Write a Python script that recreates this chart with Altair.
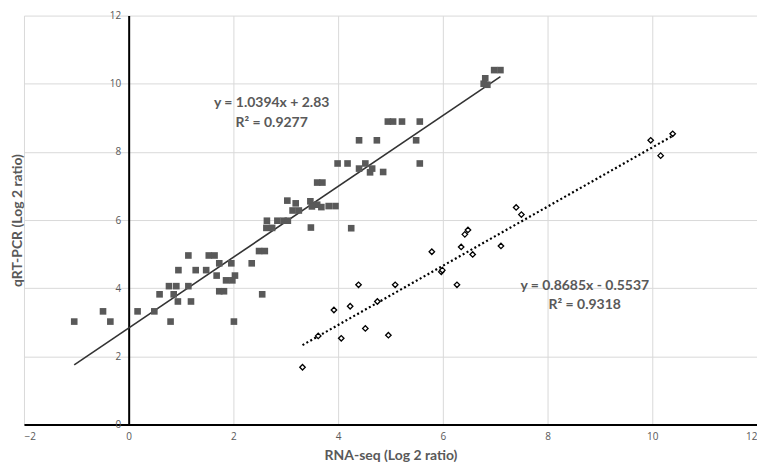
import altair as alt
import pandas as pd

# RNA-seq vs qRT-PCR, series 1 (filled squares)
sq_x = [-1.04, -0.49, -0.35, 0.17, 0.49, 0.59, 0.77, 0.91, 0.86, 0.80, 0.94, 0.95,
        1.14, 1.14, 1.19, 1.28, 1.48, 1.53, 1.64, 1.68, 1.73, 1.73, 1.82, 1.86,
        1.96, 1.98, 2.03, 2.01, 2.35, 2.49, 2.60, 2.55, 2.64, 2.63, 2.74, 2.84,
        2.96, 3.04, 3.03, 3.19, 3.13, 3.25, 3.47, 3.60, 3.50, 3.68, 3.82, 3.95,
        3.60, 3.70, 3.48, 4.25, 3.99, 4.18, 4.52, 5.56, 4.40, 4.65, 4.61, 4.86,
        4.40, 4.74, 5.49, 4.95, 5.05, 5.22, 5.56, 6.78, 6.85, 6.81, 6.98, 7.10]
sq_y = [3.02, 3.32, 3.02, 3.32, 3.32, 3.82, 4.06, 4.06, 3.82, 3.02, 3.61, 4.53,
        4.96, 4.06, 3.61, 4.53, 4.53, 4.96, 4.96, 4.37, 4.73, 3.91, 3.91, 4.23,
        4.73, 4.23, 4.37, 3.02, 4.73, 5.09, 5.09, 3.82, 5.98, 5.77, 5.77, 5.98,
        5.98, 5.98, 6.57, 6.49, 6.28, 6.28, 6.55, 6.45, 6.40, 6.38, 6.41, 6.41,
        7.10, 7.10, 5.78, 5.76, 7.66, 7.66, 7.66, 7.66, 7.51, 7.51, 7.40, 7.41,
        8.34, 8.34, 8.34, 8.89, 8.89, 8.89, 8.89, 10.00, 9.97, 10.16, 10.40, 10.40]

# series 2 (open diamonds)
dm_x = [3.32, 3.62, 4.06, 3.92, 4.23, 4.39, 4.52, 4.75, 4.96, 5.09, 5.79, 5.97,
        5.99, 6.27, 6.35, 6.42, 6.48, 6.57, 7.11, 7.40, 7.50, 9.97, 10.16, 10.39]
dm_y = [1.68, 2.60, 2.53, 3.36, 3.47, 4.10, 2.82, 3.61, 2.62, 4.10, 5.07, 4.48,
        4.53, 4.10, 5.21, 5.58, 5.71, 4.99, 5.24, 6.37, 6.16, 8.34, 7.89, 8.53]

# linear trendlines (from the equations printed on the chart)
fit_slope = [1.0394, 0.8685]
fit_intercept = [2.83, -0.5537]

eq_text = ["y = 1.0394x + 2.83", "R² = 0.9277", "y = 0.8685x - 0.5537", "R² = 0.9318"]
eq_x = [2.73, 2.73, 8.71, 8.71]
eq_y = [9.43, 8.86, 4.06, 3.51]

x_ticks = [-2, 0, 2, 4, 6, 8, 10, 12]
y_ticks = [0, 2, 4, 6, 8, 10, 12]

W, H = 735, 410
x_min, x_max = -2, 12
y_off = W * (0 - x_min) / (x_max - x_min)

grey = "#595959"

sq_df = pd.DataFrame({"x": sq_x, "y": sq_y})
dm_df = pd.DataFrame({"x": dm_x, "y": dm_y})
line1 = pd.DataFrame({"x": [min(sq_x), max(sq_x)]})
line1["y"] = fit_slope[0] * line1["x"] + fit_intercept[0]
line2 = pd.DataFrame({"x": [min(dm_x), max(dm_x)]})
line2["y"] = fit_slope[1] * line2["x"] + fit_intercept[1]
txt_df = pd.DataFrame({"x": eq_x, "y": eq_y, "t": eq_text})

x_enc = alt.X("x:Q", scale=alt.Scale(domain=[x_min, x_max], nice=False, zero=False),
              axis=alt.Axis(values=x_ticks, grid=True, gridColor="#d9d9d9", gridWidth=1,
                            domainColor="black", domainWidth=2, ticks=False,
                            labelColor=grey, labelFontSize=10, labelFont="Open Sans",
                            labelPadding=7,
                            title="RNA-seq (Log 2 ratio)", titleFont="Lato",
                            titleFontSize=14, titleFontWeight="bold", titleColor=grey,
                            titlePadding=7))
y_enc = alt.Y("y:Q", scale=alt.Scale(domain=[0, 12], nice=False, zero=False),
              axis=alt.Axis(values=y_ticks, grid=True, gridColor="#d9d9d9", gridWidth=1,
                            domainColor="black", domainWidth=2, ticks=False,
                            offset=-y_off,
                            labelColor=grey, labelFontSize=10, labelFont="Open Sans",
                            labelPadding=8,
                            title="qRT-PCR (Log 2 ratio)", titleFont="Lato",
                            titleFontSize=14, titleFontWeight="bold", titleColor=grey,
                            titleX=-y_off + 1))

squares = alt.Chart(sq_df).mark_square(size=44, color="#595959", opacity=1).encode(x=x_enc, y=y_enc)
diamonds = alt.Chart(dm_df).mark_point(shape="diamond", size=30, filled=True, fill="white",
                                       stroke="black", strokeWidth=1.3, opacity=1).encode(x=x_enc, y=y_enc)
trend1 = alt.Chart(line1).mark_line(color="#333333", strokeWidth=1.6).encode(x=x_enc, y=y_enc)
trend2 = alt.Chart(line2).mark_line(color="black", strokeWidth=2.2, strokeDash=[2, 2.5]).encode(x=x_enc, y=y_enc)
labels = alt.Chart(txt_df).mark_text(font="Lato", fontSize=14, fontWeight="bold", color=grey,
                                     align="center", baseline="middle").encode(x=x_enc, y=y_enc, text="t:N")

chart = alt.layer(trend1, trend2, squares, diamonds, labels).properties(
    width=W, height=H, padding={"left": 3, "top": 2, "right": 0, "bottom": 0},
    background="white"
).configure_view(stroke=None)

chart.save("out.html", embed_options={"renderer": "svg", "actions": False})
